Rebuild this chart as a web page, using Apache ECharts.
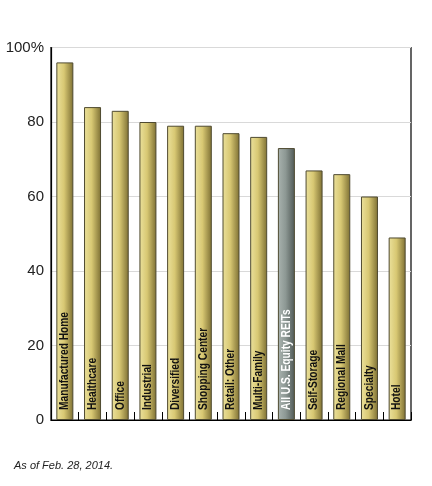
<!DOCTYPE html>
<html>
<head>
<meta charset="utf-8">
<style>
  html, body { margin: 0; padding: 0; background: #fff; }
  #chart { width: 432px; height: 486px; }
</style>
<script src="https://cdn.jsdelivr.net/npm/echarts@6/dist/echarts.min.js"></script>
</head>
<body>
<div id="chart"></div>
<script>
// REIT sectors and their share values (%), as of Feb. 28, 2014
const categories = [
  'Manufactured Home', 'Healthcare', 'Office', 'Industrial', 'Diversified',
  'Shopping Center', 'Retail: Other', 'Multi-Family', 'All U.S. Equity REITs',
  'Self-Storage', 'Regional Mall', 'Specialty', 'Hotel'
];
const values = [96, 84, 83, 80, 79, 79, 77, 76, 73, 67, 66, 60, 49];
const highlight = 'All U.S. Equity REITs';
const yTicks = [0, 20, 40, 60, 80, 100];
const footnote = 'As of Feb. 28, 2014.';

const goldFill = new echarts.graphic.LinearGradient(0, 0, 1, 0, [
  { offset: 0, color: '#ebe19c' },
  { offset: 0.45, color: '#d8c873' },
  { offset: 1, color: '#7d6f33' }
]);
const greyFill = new echarts.graphic.LinearGradient(0, 0, 1, 0, [
  { offset: 0, color: '#a9b3af' },
  { offset: 0.45, color: '#8d9894' },
  { offset: 1, color: '#4f5855' }
]);

const barData = values.map((v, i) => ({
  value: v,
  itemStyle: { color: categories[i] === highlight ? greyFill : goldFill }
}));

// Vertical, slightly condensed sector names sitting at the foot of each bar
const labelData = values.map((v, i) => [i, v]);
function renderLabel(params, api) {
  const idx = api.value(0);
  const base = api.coord([idx, 0]);
  const name = categories[idx];
  return {
    type: 'text',
    x: base[0],
    y: base[1] - 10,
    rotation: Math.PI / 2,
    scaleX: 0.85,
    silent: true,
    style: {
      text: name,
      fill: name === highlight ? '#ffffff' : '#111111',
      font: 'bold 12px "Liberation Sans", Arial, sans-serif',
      align: 'left',
      verticalAlign: 'middle'
    }
  };
}

const chart = echarts.init(document.getElementById('chart'), null, { renderer: 'canvas' });
chart.setOption({
  animation: false,
  grid: {
    left: 51, right: 21, top: 47.5, bottom: 66,
    show: true, borderColor: '#000', borderWidth: 1.2, backgroundColor: 'transparent'
  },
  xAxis: {
    type: 'category',
    data: categories,
    axisLine: { lineStyle: { color: '#000', width: 1.2 } },
    axisTick: { show: true, inside: true, length: 8, interval: 0, lineStyle: { color: '#000' } },
    axisLabel: { show: false }
  },
  yAxis: {
    type: 'value',
    min: yTicks[0], max: yTicks[yTicks.length - 1], interval: 20,
    axisLine: { show: true, lineStyle: { color: '#000', width: 1.2 } },
    axisTick: { show: false },
    axisLabel: {
      color: '#222', fontSize: 15, margin: 7,
      fontFamily: 'Liberation Sans, Arial, sans-serif',
      formatter: v => v === 100 ? v + '%' : String(v)
    },
    splitLine: { lineStyle: { color: '#d9d9d9', width: 1 } }
  },
  series: [{
    type: 'bar',
    data: barData,
    barWidth: 17,
    itemStyle: { borderColor: '#4f4a30', borderWidth: 1 }
  }, {
    type: 'custom',
    data: labelData,
    renderItem: renderLabel,
    z: 10,
    silent: true
  }],
  graphic: [{
    type: 'text',
    left: 14, top: 460,
    style: {
      text: footnote,
      fontSize: 11, fontStyle: 'italic',
      fontFamily: 'Liberation Sans, Arial, sans-serif',
      fill: '#222'
    }
  }]
});
</script>
</body>
</html>
